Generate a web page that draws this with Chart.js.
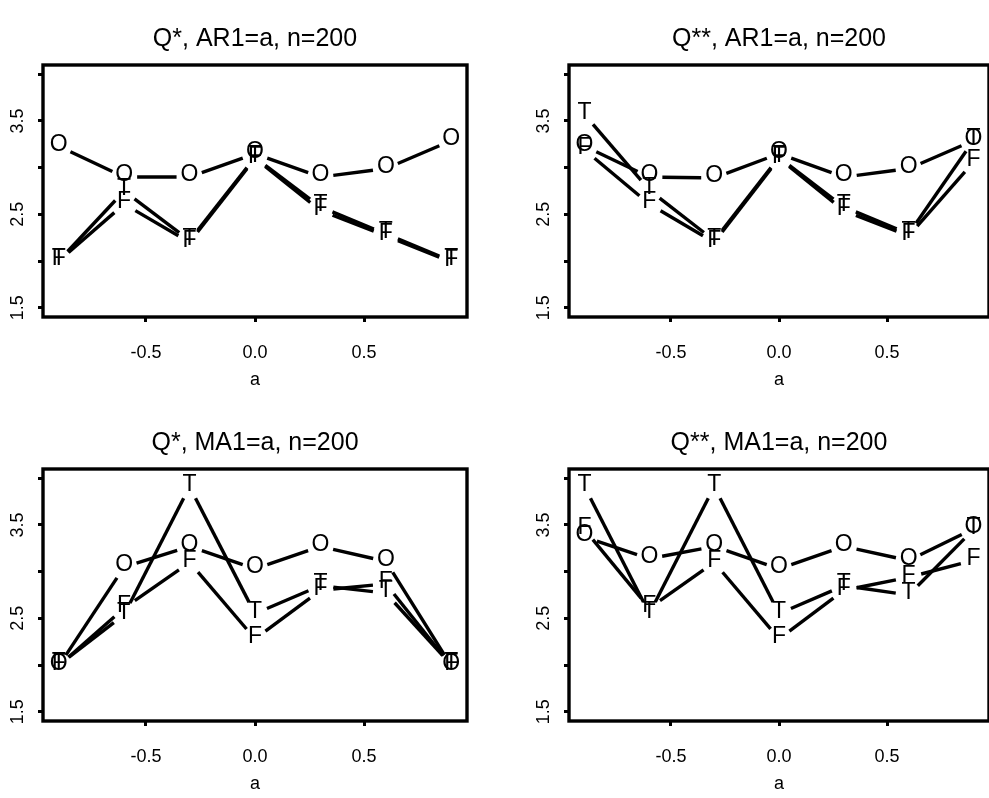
<!DOCTYPE html>
<html>
<head>
<meta charset="utf-8">
<script src="https://cdn.jsdelivr.net/npm/chart.js@4.4.0/dist/chart.umd.min.js"></script>
<style>
  body { margin: 0; background: #fff; width: 989px; height: 798px; overflow: hidden; position: relative; }
  canvas { position: absolute; }
</style>
</head>
<body>
<canvas id="tl" width="494" height="400" style="left:0;top:0"></canvas>
<canvas id="tr" width="495" height="400" style="left:494px;top:0"></canvas>
<canvas id="bl" width="494" height="398" style="left:0;top:400px"></canvas>
<canvas id="br" width="495" height="398" style="left:494px;top:400px"></canvas>
<script>
// x values (a) shared by every panel
var aValues = [-0.9, -0.6, -0.3, 0, 0.3, 0.6, 0.9];
var xTicks = [-0.5, 0, 0.5];
var yTicks = [1.5, 2, 2.5, 3, 3.5, 4];
var yLabelTicks = [1.5, 2.5, 3.5];

// Q*, AR1
var arStarO = [3.23, 2.90, 2.90, 3.15, 2.90, 2.99, 3.29];
var arStarT = [2.00, 2.75, 2.22, 3.11, 2.58, 2.29, 2.00];
var arStarF = [2.00, 2.61, 2.20, 3.10, 2.54, 2.27, 1.99];
// Q**, AR1
var arStar2O = [3.23, 2.90, 2.89, 3.15, 2.90, 2.99, 3.29];
var arStar2T = [3.57, 2.76, 2.22, 3.11, 2.58, 2.29, 3.29];
var arStar2F = [3.19, 2.61, 2.20, 3.10, 2.54, 2.27, 3.06];
// Q*, MA1
var maStarO = [1.99, 3.05, 3.27, 3.03, 3.27, 3.11, 1.99];
var maStarT = [2.00, 2.54, 3.91, 2.55, 2.85, 2.77, 2.00];
var maStarF = [1.99, 2.61, 3.10, 2.28, 2.80, 2.87, 1.99];
// Q**, MA1
var maStar2O = [3.37, 3.14, 3.27, 3.03, 3.27, 3.12, 3.46];
var maStar2T = [3.91, 2.55, 3.91, 2.55, 2.85, 2.75, 3.45];
var maStar2F = [3.45, 2.61, 3.10, 2.28, 2.80, 2.94, 3.12];

var FONT = '"Liberation Sans", Arial, Helvetica, sans-serif';
var GAP = 13;     // gap left around each letter (type="b")
var LIFT = 4;     // letters sit a little above their point

function toPoints(vals) {
  var out = [];
  for (var i in vals) out.push({ x: aValues[i], y: vals[i] });
  return out;
}

var rPlot = {
  id: 'rPlot',
  afterDatasetsDraw: function(chart) {
    var ctx = chart.ctx;
    ctx.save();
    ctx.strokeStyle = '#000';
    ctx.lineWidth = 3.4;
    ctx.lineCap = 'butt';
    chart.data.datasets.forEach(function(ds, i) {
      var pts = chart.getDatasetMeta(i).data;
      for (var k = 0; k < pts.length - 1; k++) {
        var x1 = pts[k].x, y1 = pts[k].y, x2 = pts[k + 1].x, y2 = pts[k + 1].y;
        var dx = x2 - x1, dy = y2 - y1, d = Math.sqrt(dx * dx + dy * dy);
        if (d <= 2 * GAP) continue;
        var ux = dx / d, uy = dy / d;
        ctx.beginPath();
        ctx.moveTo(x1 + ux * GAP, y1 + uy * GAP);
        ctx.lineTo(x2 - ux * GAP, y2 - uy * GAP);
        ctx.stroke();
      }
    });
    ctx.font = '23px ' + FONT;
    ctx.fillStyle = '#000';
    ctx.textAlign = 'center';
    ctx.textBaseline = 'alphabetic';
    chart.data.datasets.forEach(function(ds, i) {
      chart.getDatasetMeta(i).data.forEach(function(p) {
        ctx.fillText(ds.label, p.x, p.y - LIFT + 8.3);
      });
    });
    ctx.restore();
  },
  afterDraw: function(chart, args, opts) {
    var ctx = chart.ctx, ca = chart.chartArea;
    ctx.save();
    ctx.strokeStyle = '#000';
    ctx.lineWidth = 3.4;
    ctx.strokeRect(ca.left, ca.top, ca.right - ca.left, ca.bottom - ca.top);
    ctx.fillStyle = '#000';
    ctx.textAlign = 'center';
    ctx.textBaseline = 'middle';
    // title
    ctx.font = '25px ' + FONT;
    ctx.fillText(opts.title, (ca.left + ca.right) / 2, ca.top - 26);
    // x label
    ctx.font = '18px ' + FONT;
    ctx.fillText('a', (ca.left + ca.right) / 2, ca.bottom + 63);
    // y tick labels, rotated like R's las=0
    var ys = chart.scales.y;
    yLabelTicks.forEach(function(v) {
      ctx.save();
      ctx.translate(ca.left - 25, ys.getPixelForValue(v));
      ctx.rotate(-Math.PI / 2);
      ctx.fillText(v.toFixed(1), 0, 0);
      ctx.restore();
    });
    ctx.restore();
  }
};

function makePanel(id, title, o, t, f, pad) {
  var ctx = document.getElementById(id).getContext('2d');
  return new Chart(ctx, {
    type: 'line',
    data: {
      datasets: [
        { label: 'O', data: toPoints(o) },
        { label: 'T', data: toPoints(t) },
        { label: 'F', data: toPoints(f) }
      ]
    },
    options: {
      responsive: false,
      animation: false,
      devicePixelRatio: 1,
      showLine: false,
      elements: { point: { radius: 0, hoverRadius: 0 } },
      events: [],
      layout: { autoPadding: false, padding: pad },
      plugins: {
        legend: { display: false },
        tooltip: { enabled: false },
        rPlot: { title: title }
      },
      scales: {
        x: {
          type: 'linear',
          min: -0.972,
          max: 0.972,
          afterBuildTicks: function(s) { s.ticks = xTicks.map(function(v) { return { value: v }; }); },
          afterFit: function(s) { s.height = 60; },
          ticks: {
            autoSkip: false,
            maxRotation: 0,
            padding: 20,
            color: '#000',
            font: { size: 18, family: FONT },
            callback: function(v) { return Number(v).toFixed(1); }
          },
          grid: { drawOnChartArea: false, drawTicks: true, tickLength: 5, color: '#000', lineWidth: 3 },
          border: { display: false }
        },
        y: {
          type: 'linear',
          min: 1.4,
          max: 4.1,
          afterBuildTicks: function(s) { s.ticks = yTicks.map(function(v) { return { value: v }; }); },
          afterFit: function(s) { s.width = 43; },
          ticks: { display: false },
          grid: { drawOnChartArea: false, drawTicks: true, tickLength: 5, color: '#000', lineWidth: 3 },
          border: { display: false }
        }
      }
    },
    plugins: [rPlot]
  });
}

makePanel('tl', 'Q*, AR1=a, n=200', arStarO, arStarT, arStarF, { left: 0, top: 65, right: 27, bottom: 23 });
makePanel('tr', 'Q**, AR1=a, n=200', arStar2O, arStar2T, arStar2F, { left: 32, top: 65, right: 0, bottom: 23 });
makePanel('bl', 'Q*, MA1=a, n=200', maStarO, maStarT, maStarF, { left: 0, top: 69, right: 27, bottom: 17 });
makePanel('br', 'Q**, MA1=a, n=200', maStar2O, maStar2T, maStar2F, { left: 32, top: 69, right: 0, bottom: 17 });
</script>
</body>
</html>
